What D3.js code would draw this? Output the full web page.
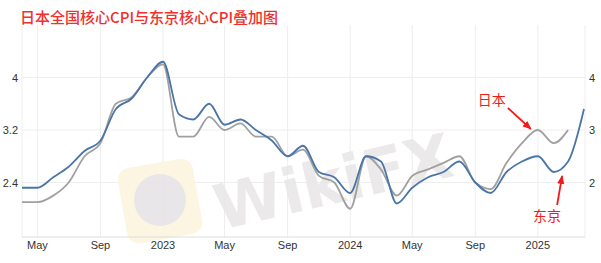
<!DOCTYPE html>
<html>
<head>
<meta charset="utf-8">
<script src="https://cdn.jsdelivr.net/npm/d3@7/dist/d3.min.js"></script>
<style>
  body { margin: 0; background: #fff; }
  svg { display: block; font-family: "Liberation Sans", Arial, sans-serif; }
</style>
</head>
<body>
<script>
// months, Apr 2022 .. Apr 2025
var months = d3.timeMonth.range(new Date(2022, 3, 1), new Date(2025, 4, 1));

// 日本全国核心CPI (left axis)
var japanCPI = [2.1, 2.1, 2.2, 2.4, 2.8, 3.0, 3.6, 3.7, 4.0,
                4.2, 3.1, 3.1, 3.4, 3.2, 3.3, 3.1, 3.1, 2.8, 2.9, 2.5, 2.4,
                2.0, 2.8, 2.6, 2.2, 2.5, 2.6, 2.7, 2.8, 2.4, 2.3, 2.7, 3.0,
                3.2, 3.0, 3.2];

// 东京核心CPI (right axis)
var tokyoCPI = [1.9, 1.9, 2.1, 2.3, 2.6, 2.8, 3.4, 3.6, 4.0,
                4.3, 3.3, 3.2, 3.5, 3.1, 3.2, 3.0, 2.8, 2.5, 2.7, 2.2, 2.1,
                1.8, 2.5, 2.4, 1.6, 1.9, 2.1, 2.2, 2.4, 2.0, 1.8, 2.2, 2.4,
                2.5, 2.2, 2.4, 3.4];

var leftTicks = [2.4, 3.2, 4];
var rightTicks = [2, 3, 4];

var width = 601, height = 263;
var plotLeft = 22, plotRight = 585, plotTop = 25, plotBottom = 237;

var svg = d3.select("body")
    .append("svg")
    .attr("width", width)
    .attr("height", height);

var x = d3.scaleTime()
    .domain([new Date(2022, 3, 1), new Date(2025, 3, 1)])
    .range([plotLeft, 584]);

var yLeft = d3.scaleLinear()
    .domain([1.6, 4.8])
    .range([235, plotTop]);

var yRight = d3.scaleLinear()
    .domain([1, 5])
    .range([235, plotTop]);

// title
svg.append("text")
    .text("日本全国核心CPI与东京核心CPI叠加图")
    .attr("x", 20)
    .attr("y", 23)
    .attr("fill", "#f0302c")
    .style("font-family", "'Noto Sans CJK SC', sans-serif")
    .style("font-size", "15px")
    .style("font-weight", "500");

// grid
var xTicks = x.ticks(d3.timeMonth.every(4));
svg.append("g")
    .selectAll("line")
    .data(xTicks)
    .enter()
    .append("line")
    .attr("x1", d => x(d))
    .attr("x2", d => x(d))
    .attr("y1", plotTop)
    .attr("y2", plotBottom)
    .attr("stroke", "#eeeeee");

svg.append("g")
    .selectAll("line")
    .data(leftTicks)
    .enter()
    .append("line")
    .attr("x1", plotLeft)
    .attr("x2", plotRight)
    .attr("y1", d => yLeft(d))
    .attr("y2", d => yLeft(d))
    .attr("stroke", "#eeeeee");

// plot edges
svg.append("line")
    .attr("x1", plotLeft).attr("x2", plotLeft)
    .attr("y1", plotTop).attr("y2", plotBottom)
    .attr("stroke", "#eeeeee");
svg.append("line")
    .attr("x1", plotRight).attr("x2", plotRight)
    .attr("y1", plotTop).attr("y2", plotBottom)
    .attr("stroke", "#eeeeee");

// watermark
var wm = svg.append("g").attr("opacity", 0.9);
wm.append("rect")
    .attr("x", 122).attr("y", 163)
    .attr("width", 76).attr("height", 76)
    .attr("rx", 12)
    .attr("fill", "#fcf5df")
    .attr("transform", "rotate(-10, 160, 201)");
wm.append("circle")
    .attr("cx", 160).attr("cy", 200)
    .attr("r", 26)
    .attr("fill", "#e6e4e6");
wm.append("text")
    .text("WikiFX")
    .attr("x", 220)
    .attr("y", 230)
    .attr("fill", "#e9e7e7")
    .attr("transform", "rotate(-13, 220, 230)")
    .style("font-family", "'DejaVu Sans', sans-serif")
    .style("font-weight", "bold")
    .style("font-size", "62px");

// x axis
svg.append("line")
    .attr("x1", plotLeft).attr("x2", plotRight)
    .attr("y1", plotBottom).attr("y2", plotBottom)
    .attr("stroke", "#dddddd");

svg.append("g")
    .selectAll("text")
    .data(xTicks)
    .enter()
    .append("text")
    .text(d => d.getMonth() == 0 ? d3.timeFormat("%Y")(d) : d3.timeFormat("%b")(d))
    .attr("x", d => x(d))
    .attr("y", 249)
    .attr("text-anchor", "middle")
    .attr("fill", "#333333")
    .style("font-size", "11px");

// y axes labels
svg.append("g")
    .selectAll("text")
    .data(leftTicks)
    .enter()
    .append("text")
    .text(d => d)
    .attr("x", 18)
    .attr("y", d => yLeft(d) + 4)
    .attr("text-anchor", "end")
    .attr("fill", "#333333")
    .style("font-size", "11px");

svg.append("g")
    .selectAll("text")
    .data(rightTicks)
    .enter()
    .append("text")
    .text(d => d)
    .attr("x", 589)
    .attr("y", d => yRight(d) + 4)
    .attr("fill", "#333333")
    .style("font-size", "11px");

// lines
var lineJapan = d3.line()
    .x((d, i) => x(months[i]))
    .y(d => yLeft(d))
    .curve(d3.curveMonotoneX);

var lineTokyo = d3.line()
    .x((d, i) => x(months[i]))
    .y(d => yRight(d))
    .curve(d3.curveMonotoneX);

svg.append("path")
    .datum(japanCPI)
    .attr("d", lineJapan)
    .attr("fill", "none")
    .attr("stroke", "#a0a0a0")
    .attr("stroke-width", 1.8);

svg.append("path")
    .datum(tokyoCPI)
    .attr("d", lineTokyo)
    .attr("fill", "none")
    .attr("stroke", "#4a75a9")
    .attr("stroke-width", 1.8);

// annotations
svg.append("defs")
    .append("marker")
    .attr("id", "arrow")
    .attr("viewBox", "0 0 10 10")
    .attr("refX", 9).attr("refY", 5)
    .attr("markerWidth", 5).attr("markerHeight", 5)
    .attr("orient", "auto")
    .append("path")
    .attr("d", "M0,1 L10,5 L0,9 z")
    .attr("fill", "#f01c1c");

var jx = x(months[33]), jy = yLeft(japanCPI[33]);
svg.append("text")
    .text("日本")
    .attr("x", jx - 60)
    .attr("y", jy - 25)
    .attr("fill", "#f01c1c")
    .style("font-family", "'Noto Sans CJK SC', sans-serif")
    .style("font-size", "14px");
svg.append("line")
    .attr("x1", jx - 30).attr("y1", jy - 22)
    .attr("x2", jx - 7).attr("y2", jy - 1)
    .attr("stroke", "#f01c1c")
    .attr("stroke-width", 1.8)
    .attr("marker-end", "url(#arrow)");

var tx = x(months[35]), ty = yRight(tokyoCPI[34]);
svg.append("text")
    .text("东京")
    .attr("x", tx - 35)
    .attr("y", ty + 49)
    .attr("fill", "#f01c1c")
    .style("font-family", "'Noto Sans CJK SC', sans-serif")
    .style("font-size", "14px");
svg.append("line")
    .attr("x1", tx - 11).attr("y1", ty + 33)
    .attr("x2", tx - 6).attr("y2", ty + 4)
    .attr("stroke", "#f01c1c")
    .attr("stroke-width", 1.8)
    .attr("marker-end", "url(#arrow)");
</script>
</body>
</html>
